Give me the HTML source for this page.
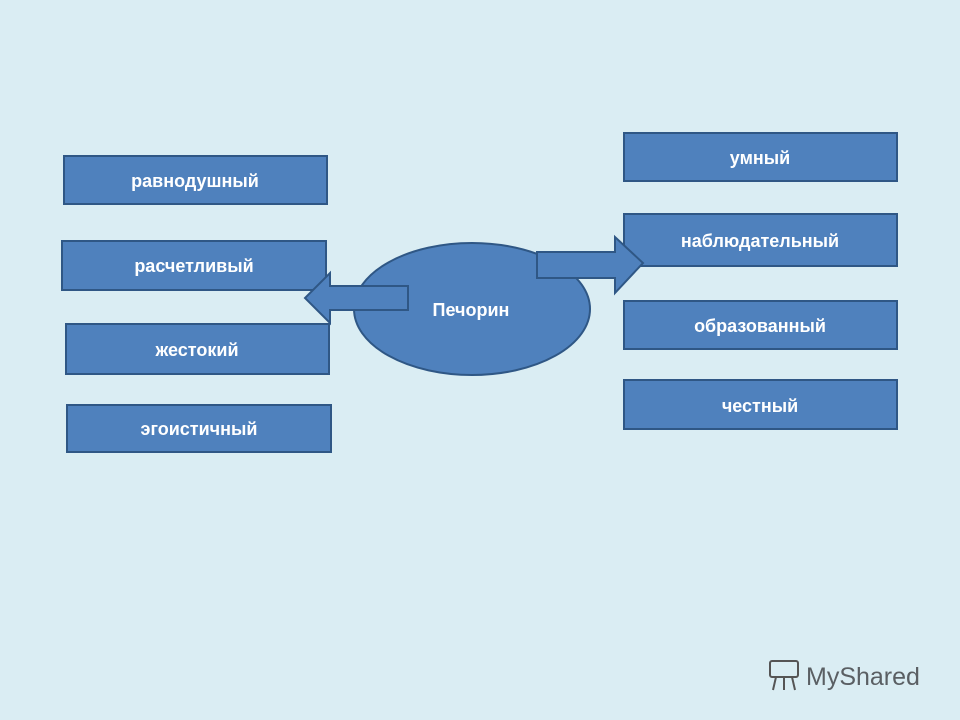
<!DOCTYPE html>
<html><head><meta charset="utf-8"><style>
body{margin:0;width:960px;height:720px;background:#daedf3;overflow:hidden;font-family:"Liberation Sans",sans-serif}
</style></head><body>
<svg width="960" height="720" xmlns="http://www.w3.org/2000/svg" style="position:absolute;left:0;top:0">
<g fill="#4f81bd" stroke="#2f5785" stroke-width="2">
<rect x="64" y="156" width="263" height="48"/>
<rect x="62" y="241" width="264" height="49"/>
<rect x="66" y="324" width="263" height="50"/>
<rect x="67" y="405" width="264" height="47"/>
<rect x="624" y="133" width="273" height="48"/>
<rect x="624" y="214" width="273" height="52"/>
<rect x="624" y="301" width="273" height="48"/>
<rect x="624" y="380" width="273" height="49"/>
<ellipse cx="472" cy="309" rx="118" ry="66"/>
<polygon points="408,286 330,286 330,273 305,298 330,323 330,310 408,310"/>
<polygon points="537,252 615,252 615,237 643,263 615,293 615,278 537,278"/>
</g>
<g fill="#fff" font-family="Liberation Sans, sans-serif" font-size="18" font-weight="bold" text-anchor="middle">
<text x="195" y="187">равнодушный</text>
<text x="194" y="272">расчетливый</text>
<text x="197" y="356">жестокий</text>
<text x="199" y="435">эгоистичный</text>
<text x="760" y="164">умный</text>
<text x="760" y="247">наблюдательный</text>
<text x="760" y="332">образованный</text>
<text x="760" y="412">честный</text>
<text x="471" y="316">Печорин</text>
</g>
<g fill="none" stroke="#555" stroke-width="2">
<rect x="770" y="661" width="28" height="16" rx="2"/>
<line x1="776" y1="677" x2="773" y2="690"/><line x1="784" y1="677" x2="784" y2="690"/><line x1="792" y1="677" x2="795" y2="690"/>
</g>
<text x="806" y="685" font-size="25" fill="#5a5f63" font-family="Liberation Sans, sans-serif">MyShared</text>
</svg>
</body></html>
